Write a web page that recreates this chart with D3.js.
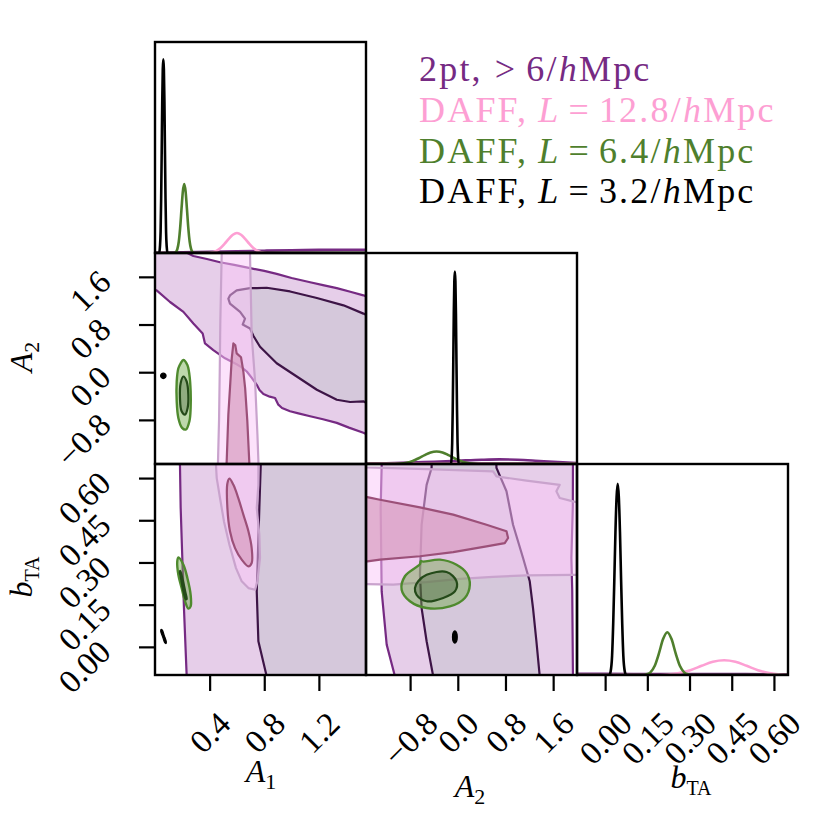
<!DOCTYPE html>
<html><head><meta charset="utf-8">
<script src="https://cdn.jsdelivr.net/npm/d3@7/dist/d3.min.js"></script>
<style>body{margin:0;background:#fff} svg{display:block}</style>
</head><body>
<svg id="c" width="830" height="830"></svg>
<script>
// ---------------- DATA ----------------
const paramNames = ["A1", "A2", "bTA"];
const paramDomains = [[0.0, 1.545], [-1.54, 2.0], [-0.10, 0.65]];
const tickValues = [[0.4, 0.8, 1.2], [-0.8, 0.0, 0.8, 1.6], [0.00, 0.15, 0.30, 0.45, 0.60]];
const tickLabels = [["0.4", "0.8", "1.2"], ["\u22120.8", "0.0", "0.8", "1.6"], ["0.00", "0.15", "0.30", "0.45", "0.60"]];
const margYMax = [1.089, 1.096, 1.104];

const seriesNames = ["2pt, > 6/hMpc", "DAFF, L = 12.8/hMpc", "DAFF, L = 6.4/hMpc", "DAFF, L = 3.2/hMpc"];

// 1D marginals [value, density]
const pt2_A1 = [[0,0.001],[0.2,0.003],[0.4,0.006],[0.6,0.009],[0.8,0.012],[1.0,0.014],[1.2,0.016],[1.4,0.017],[1.545,0.017]];
const pink_A1 = [[0,0],[0.38,0],[0.42,0.004],[0.45,0.011],[0.48,0.026],[0.51,0.048],[0.54,0.073],[0.57,0.094],[0.60,0.103],[0.63,0.094],[0.66,0.073],[0.69,0.048],[0.72,0.026],[0.75,0.011],[0.78,0.004],[0.82,0],[1.545,0]];
const green_A1 = [[0,0],[0.144,0],[0.154,0.006],[0.164,0.021],[0.174,0.058],[0.184,0.128],[0.194,0.226],[0.204,0.318],[0.214,0.356],[0.224,0.318],[0.234,0.226],[0.244,0.128],[0.254,0.058],[0.264,0.021],[0.274,0.006],[0.284,0],[1.545,0]];
const black_A1 = [[0,0],[0.031,0],[0.036,0.03],[0.041,0.11],[0.045,0.28],[0.049,0.52],[0.053,0.78],[0.057,0.95],[0.061,1],[0.065,0.95],[0.069,0.78],[0.073,0.52],[0.077,0.28],[0.081,0.11],[0.086,0.03],[0.091,0],[1.545,0]];

const pt2_A2 = [[-1.54,0.001],[-1.2,0.003],[-0.8,0.007],[-0.4,0.012],[0,0.017],[0.4,0.022],[0.7,0.024],[1.0,0.022],[1.3,0.017],[1.6,0.011],[2.0,0.005]];
const pink_A2 = [[-1.54,0.003],[0,0.004],[2.0,0.003]];
const green_A2 = [[-1.54,0],[-1.056,0],[-0.956,0.002],[-0.856,0.007],[-0.756,0.016],[-0.656,0.03],[-0.556,0.046],[-0.456,0.06],[-0.356,0.065],[-0.256,0.06],[-0.156,0.046],[-0.056,0.03],[0.044,0.016],[0.144,0.007],[0.244,0.002],[0.344,0],[2.0,0]];
const black_A2 = [[-1.54,0],[-0.114,0],[-0.104,0.03],[-0.094,0.11],[-0.085,0.28],[-0.076,0.52],[-0.067,0.78],[-0.058,0.95],[-0.049,1],[-0.04,0.95],[-0.031,0.78],[-0.022,0.52],[-0.013,0.28],[-0.004,0.11],[0.006,0.03],[0.016,0],[2.0,0]];

const pt2_bTA = [[-0.1,0.006],[0.1,0.0055],[0.3,0.005],[0.5,0.0045],[0.65,0.004]];
const pink_bTA = [[-0.1,0],[0.173,0],[0.223,0.003],[0.263,0.01],[0.303,0.025],[0.343,0.048],[0.383,0.069],[0.423,0.077],[0.463,0.069],[0.503,0.048],[0.543,0.025],[0.583,0.01],[0.623,0.003],[0.65,0.001]];
const green_bTA = [[-0.1,0],[0.131,0],[0.146,0.003],[0.161,0.014],[0.176,0.047],[0.191,0.112],[0.206,0.188],[0.221,0.224],[0.236,0.188],[0.251,0.112],[0.266,0.047],[0.281,0.014],[0.296,0.003],[0.311,0],[0.65,0]];
const black_bTA = [[-0.1,0],[0.0147,0],[0.0197,0.02],[0.0247,0.1],[0.0287,0.27],[0.0327,0.5],[0.0367,0.75],[0.0407,0.93],[0.0447,1],[0.0487,0.93],[0.0527,0.75],[0.0567,0.5],[0.0607,0.27],[0.0647,0.1],[0.0697,0.02],[0.0747,0],[0.65,0]];

// 2D contours [x, y]
// panel A1 (x) - A2 (y)
const pt2_A1A2_outer = [[-0.1,2.2],[0.15,2.1],[0.281,1.95],[0.38,1.9],[0.476,1.845],[0.58,1.8],[0.696,1.745],[0.8,1.7],[0.891,1.65],[1.0,1.58],[1.136,1.51],[1.23,1.46],[1.331,1.41],[1.43,1.35],[1.526,1.29],[1.7,1.15],[1.7,-1.2],[1.526,-1.017],[1.42,-0.93],[1.331,-0.85],[1.23,-0.79],[1.136,-0.738],[1.05,-0.69],[0.989,-0.655],[0.93,-0.6],[0.903,-0.545],[0.879,-0.433],[0.84,-0.41],[0.794,-0.367],[0.765,-0.3],[0.745,-0.212],[0.71,-0.1],[0.672,0.012],[0.635,0.08],[0.598,0.133],[0.513,0.233],[0.427,0.372],[0.366,0.483],[0.349,0.65],[0.281,0.817],[0.208,1.012],[0.11,1.178],[0.012,1.372],[-0.1,1.48]];
const pt2_A1A2_inner = [[0.549,1.288],[0.598,1.372],[0.696,1.412],[0.745,1.41],[0.818,1.417],[0.989,1.355],[1.185,1.245],[1.38,1.122],[1.526,0.983],[1.7,0.8],[1.7,-0.7],[1.526,-0.488],[1.429,-0.5],[1.331,-0.462],[1.185,-0.295],[1.038,-0.072],[0.891,0.15],[0.769,0.428],[0.72,0.612],[0.696,0.733],[0.642,0.8],[0.659,0.9],[0.623,1.012],[0.549,1.15],[0.537,1.233]];
const pink_A1A2_outer = [[0.459,-1.7],[0.469,-0.8],[0.474,0.0],[0.478,0.8],[0.488,1.95],[0.49,2.1],[0.695,2.1],[0.696,1.955],[0.708,0.62],[0.733,-0.155],[0.75,-1.045],[0.757,-1.488],[0.76,-1.7]];
const pink_A1A2_inner = [[0.52,-1.7],[0.525,-1.49],[0.537,-0.71],[0.549,-0.267],[0.556,0.0],[0.562,0.233],[0.574,0.483],[0.588,0.45],[0.598,0.317],[0.63,0.25],[0.647,0.012],[0.66,-0.267],[0.676,-0.82],[0.69,-1.49],[0.692,-1.7]];
const green_A1A2_outer = [[0.2075,0.206],[0.237,0.122],[0.252,-0.044],[0.261,-0.322],[0.261,-0.6],[0.252,-0.822],[0.227,-0.961],[0.198,-0.933],[0.171,-0.767],[0.159,-0.489],[0.159,-0.156],[0.171,0.067],[0.188,0.15]];
const green_A1A2_inner = [[0.2075,-0.072],[0.232,-0.156],[0.244,-0.378],[0.239,-0.6],[0.22,-0.711],[0.195,-0.656],[0.183,-0.433],[0.188,-0.183]];
const black_A1A2 = [[0.061,-0.016],[0.075,-0.03],[0.081,-0.061],[0.075,-0.092],[0.061,-0.106],[0.047,-0.092],[0.041,-0.061],[0.047,-0.03]];

// panel A1 (x) - bTA (y)
const pt2_A1b_outer = [[0.17,0.75],[0.183,0.642],[0.188,0.494],[0.2,0.316],[0.212,0.138],[0.232,-0.104],[0.235,-0.15],[1.7,-0.15],[1.7,0.75]];
const pt2_A1b_inner = [[0.775,0.75],[0.774,0.642],[0.764,0.494],[0.745,0.197],[0.757,0.02],[0.818,-0.105],[0.83,-0.15],[1.7,-0.15],[1.7,0.75]];
const pink_A1b_outer = [[0.445,0.75],[0.447,0.642],[0.452,0.60],[0.476,0.529],[0.505,0.446],[0.545,0.363],[0.593,0.28],[0.635,0.233],[0.684,0.209],[0.733,0.203],[0.75,0.233],[0.769,0.316],[0.764,0.399],[0.745,0.494],[0.757,0.576],[0.757,0.642],[0.757,0.75]];
const pink_A1b_inner = [[0.545,0.598],[0.53,0.581],[0.53,0.494],[0.549,0.411],[0.586,0.351],[0.635,0.31],[0.684,0.286],[0.708,0.298],[0.708,0.351],[0.684,0.411],[0.647,0.47],[0.61,0.529],[0.574,0.576]];
const green_A1b_outer = [[0.171,0.318],[0.208,0.292],[0.237,0.245],[0.261,0.185],[0.261,0.144],[0.244,0.136],[0.22,0.162],[0.195,0.209],[0.171,0.256],[0.163,0.304]];
const green_A1b_inner = [[0.185,0.27],[0.2,0.245],[0.222,0.195],[0.232,0.17],[0.225,0.17],[0.205,0.205],[0.19,0.245],[0.182,0.265]];
const black_A1b = [[0.044,0.062],[0.053,0.06],[0.068,0.04],[0.083,0.018],[0.081,0.012],[0.072,0.014],[0.057,0.034],[0.042,0.055]];

// panel A2 (x) - bTA (y)
const pt2_A2b_outer = [[-1.3,0.75],[-1.277,0.645],[-1.294,0.494],[-1.277,0.197],[-1.193,0.008],[-1.054,-0.105],[-1.03,-0.15],[1.95,-0.15],[1.932,-0.105],[1.92,0.2],[1.906,0.316],[1.93,0.5],[1.932,0.645],[1.94,0.75]];
const pt2_A2b_inner = [[-0.42,0.75],[-0.44,0.636],[-0.523,0.576],[-0.607,0.434],[-0.635,0.256],[-0.607,0.138],[-0.523,0.02],[-0.412,-0.105],[-0.4,-0.15],[1.39,-0.15],[1.375,-0.105],[1.319,0.02],[1.262,0.138],[1.207,0.233],[1.095,0.316],[0.927,0.434],[0.817,0.553],[0.649,0.636],[0.63,0.75]];
const pink_A2b_outer = [[-1.7,0.64],[-1.528,0.638],[-0.523,0.632],[0.592,0.624],[0.649,0.606],[1.152,0.591],[1.71,0.576],[1.654,0.553],[1.71,0.529],[1.932,0.517],[2.1,0.51],[2.1,0.256],[1.932,0.256],[1.152,0.254],[0.592,0.249],[0.035,0.242],[-0.523,0.23],[-1.083,0.221],[-1.518,0.223],[-1.7,0.223]];
const pink_A2b_inner = [[-1.7,0.535],[-1.518,0.532],[-1.305,0.523],[-0.635,0.496],[-0.077,0.47],[0.482,0.434],[0.817,0.411],[0.844,0.387],[0.788,0.369],[0.482,0.357],[-0.077,0.337],[-0.635,0.322],[-1.305,0.31],[-1.518,0.304],[-1.7,0.303]];
const green_A2b_outer = [[-0.635,0.294],[-0.62,0.305],[-0.58,0.303],[-0.3,0.31],[-0.021,0.292],[0.147,0.262],[0.202,0.221],[0.118,0.174],[-0.133,0.144],[-0.523,0.138],[-0.803,0.162],[-0.942,0.203],[-0.887,0.251]];
const green_A2b_inner = [[-0.664,0.233],[-0.523,0.256],[-0.188,0.266],[-0.021,0.233],[-0.049,0.197],[-0.245,0.174],[-0.523,0.162],[-0.691,0.185],[-0.719,0.209]];
const black_A2b = [[-0.049,0.057],[-0.021,0.051],[-0.009,0.035],[-0.021,0.019],[-0.049,0.013],[-0.077,0.019],[-0.089,0.035],[-0.077,0.051]];

// ---------------- STYLE ----------------
const C = {
  pt2: "#762a83", pt2OuterFill: "#e6cee9", pt2InnerFill: "#d5c8db", pt2Inner: "#3d1446",
  pink: "#fd9fd3", pinkOuterFill: "rgb(249,197,247)", pinkOuterLine: "#c9a3cd", pinkInnerFill: "#d99fc3", pinkInnerLine: "#9c5079",
  green: "#4f7f2d", greenOuterFill: "rgb(110,170,70)", greenOuterLine: "#4f8a2e", greenInnerFill: "rgb(60,90,50)", greenInnerLine: "#244a19",
  black: "#000"
};
const FONT = "'Liberation Serif', 'DejaVu Serif', serif";

const X0 = 155, Y0 = 42, S = 211;
const svg = d3.select("#c");

function xScale(i, col) { return d3.scaleLinear().domain(paramDomains[i]).range([X0 + col * S, X0 + (col + 1) * S]); }
function yScale(i, row) { return d3.scaleLinear().domain(paramDomains[i]).range([Y0 + (row + 1) * S, Y0 + row * S]); }

const defs = svg.append("defs");
function panelGroup(col, row) {
  const id = "clip" + col + row;
  defs.append("clipPath").attr("id", id).append("rect")
    .attr("x", X0 + col * S).attr("y", Y0 + row * S).attr("width", S).attr("height", S);
  return svg.append("g").attr("clip-path", "url(#" + id + ")");
}

function region(g, pts, x, y, o) {
  const line = d3.line().x(d => x(d[0])).y(d => y(d[1])).curve(o.smooth ? d3.curveCatmullRomClosed.alpha(0.5) : d3.curveLinearClosed);
  g.append("path").attr("d", line(pts))
    .attr("fill", o.fill || "none").attr("fill-opacity", o.fo == null ? 1 : o.fo)
    .attr("stroke", o.stroke || "none").attr("stroke-width", o.sw || 2.2)
    .attr("stroke-linejoin", "round");
}

// ---------------- 2D PANELS ----------------
const panels2D = [
  { col: 0, row: 1, px: 0, py: 1, data: [pt2_A1A2_outer, pt2_A1A2_inner, pink_A1A2_outer, pink_A1A2_inner, green_A1A2_outer, green_A1A2_inner, black_A1A2] },
  { col: 0, row: 2, px: 0, py: 2, data: [pt2_A1b_outer, pt2_A1b_inner, pink_A1b_outer, pink_A1b_inner, green_A1b_outer, green_A1b_inner, black_A1b] },
  { col: 1, row: 2, px: 1, py: 2, data: [pt2_A2b_outer, pt2_A2b_inner, pink_A2b_outer, pink_A2b_inner, green_A2b_outer, green_A2b_inner, black_A2b] }
];
panels2D.forEach(p => {
  const g = panelGroup(p.col, p.row);
  const x = xScale(p.px, p.col), y = yScale(p.py, p.row);
  const [po, pi, ko, ki, go, gi, bk] = p.data;
  region(g, po, x, y, { fill: C.pt2OuterFill });
  region(g, pi, x, y, { fill: C.pt2InnerFill });
  region(g, po, x, y, { stroke: C.pt2, sw: 2.2 });
  region(g, pi, x, y, { stroke: C.pt2Inner, sw: 2.2 });
  const pinkSmooth = p.col === 0 && p.row === 2;
  region(g, ko, x, y, { fill: C.pinkOuterFill, fo: 0.5 });
  region(g, ki, x, y, { fill: C.pinkInnerFill, fo: 0.75, smooth: pinkSmooth });
  region(g, ko, x, y, { stroke: C.pinkOuterLine, sw: 2.2 });
  region(g, ki, x, y, { stroke: C.pinkInnerLine, sw: 2.2, smooth: pinkSmooth });
  region(g, go, x, y, { fill: C.greenOuterFill, fo: 0.45, stroke: C.greenOuterLine, sw: 2.4, smooth: true });
  region(g, gi, x, y, { fill: C.greenInnerFill, fo: 0.35, stroke: C.greenInnerLine, sw: 2.2, smooth: true });
  region(g, bk, x, y, { fill: C.black, stroke: C.black, sw: 1.2, smooth: true });
});

// ---------------- 1D PANELS ----------------
const margs = [
  [pt2_A1, pink_A1, green_A1, black_A1],
  [pt2_A2, pink_A2, green_A2, black_A2],
  [pt2_bTA, pink_bTA, green_bTA, black_bTA]
];
const margColors = [C.pt2, C.pink, C.green, C.black];
margs.forEach((set, i) => {
  const g = panelGroup(i, i);
  const x = xScale(i, i);
  const y = d3.scaleLinear().domain([0, margYMax[i]]).range([Y0 + (i + 1) * S, Y0 + i * S]);
  const line = d3.line().x(d => x(d[0])).y(d => y(d[1])).curve(d3.curveMonotoneX);
  set.forEach((arr, k) => {
    g.append("path").attr("d", line(arr)).attr("fill", "none")
      .attr("stroke", margColors[k]).attr("stroke-width", 2.6).attr("stroke-linejoin", "round");
  });
});

// ---------------- FRAMES ----------------
for (let r = 0; r < 3; r++) for (let c = 0; c <= r; c++) {
  svg.append("rect").attr("x", X0 + c * S).attr("y", Y0 + r * S).attr("width", S).attr("height", S)
    .attr("fill", "none").attr("stroke", "#000").attr("stroke-width", 2.4);
}

// ---------------- AXES ----------------
const TL = 16, TICKFS = 33;
const bottomY = Y0 + 3 * S;
for (let c = 0; c < 3; c++) {
  const x = xScale(c, c);
  const axis = d3.axisBottom(x).tickValues(tickValues[c]).tickSize(TL).tickFormat((d, k) => tickLabels[c][k]);
  const ga = svg.append("g").attr("transform", `translate(0,${bottomY})`).call(axis);
  ga.select(".domain").remove();
  ga.selectAll(".tick line").attr("stroke", "#000").attr("stroke-width", 2.2);
  ga.selectAll(".tick text").each(function () {
    const t = d3.select(this);
    t.attr("font-family", FONT).attr("font-size", TICKFS).attr("fill", "#000")
      .attr("y", 0).attr("dy", null).attr("text-anchor", "middle").attr("dominant-baseline", "central");
    const bb = this.getBBox();
    const R = (bb.width + TICKFS * 0.68) / Math.SQRT2;
    const cy = 35 + R / 2;
    t.attr("transform", `translate(0,${cy}) rotate(-45)`);
  });
}
for (let r = 1; r < 3; r++) {
  const y = yScale(r, r);
  const axis = d3.axisLeft(y).tickValues(tickValues[r]).tickSize(TL).tickFormat((d, k) => tickLabels[r][k]);
  const ga = svg.append("g").attr("transform", `translate(${X0},0)`).call(axis);
  ga.select(".domain").remove();
  ga.selectAll(".tick line").attr("stroke", "#000").attr("stroke-width", 2.2);
  ga.selectAll(".tick text").each(function () {
    const t = d3.select(this);
    t.attr("font-family", FONT).attr("font-size", TICKFS).attr("fill", "#000")
      .attr("x", 0).attr("dy", null).attr("text-anchor", "end").attr("dominant-baseline", "central");
    t.attr("transform", `translate(-50,-1) rotate(-45)`);
  });
}

// axis labels
function paramLabel(g, i) {
  const t = g.append("text").attr("font-family", FONT).attr("font-size", 32).attr("text-anchor", "middle");
  if (i < 2) {
    t.append("tspan").attr("font-style", "italic").text("A");
    t.append("tspan").attr("font-size", 22).attr("dy", 7).text(i === 0 ? "1" : "2");
  } else {
    t.append("tspan").attr("font-style", "italic").text("b");
    t.append("tspan").attr("font-size", 20).attr("dy", 7).text("TA");
  }
  return t;
}
const xLabelPos = [[261, 782], [470, 797], [691, 788]];
for (let c = 0; c < 3; c++) {
  const g = svg.append("g").attr("transform", `translate(${xLabelPos[c][0]},${xLabelPos[c][1]})`);
  paramLabel(g, c);
}
const yLabelPos = [null, [32, 357], [32, 577]];
for (let r = 1; r < 3; r++) {
  const g = svg.append("g").attr("transform", `translate(${yLabelPos[r][0]},${yLabelPos[r][1]}) rotate(-90)`);
  paramLabel(g, r);
}

// ---------------- LEGEND ----------------
const legColors = [C.pt2, C.pink, C.green, C.black];
const legParts = [
  [["2pt,", 0, 0], [">", 0, 12], ["6/", 0, 9], ["h", 1, 0], ["Mpc", 0, 0]],
  [["DAFF,", 0, 0], ["L", 1, 10], ["=", 0, 8], ["12.8/", 0, 8], ["h", 1, 0], ["Mpc", 0, 0]],
  [["DAFF,", 0, 0], ["L", 1, 10], ["=", 0, 8], ["6.4/", 0, 8], ["h", 1, 0], ["Mpc", 0, 0]],
  [["DAFF,", 0, 0], ["L", 1, 10], ["=", 0, 8], ["3.2/", 0, 8], ["h", 1, 0], ["Mpc", 0, 0]]
];
seriesNames.forEach((name, k) => {
  const t = svg.append("text").attr("x", 419).attr("y", 81 + k * 40.8)
    .attr("font-family", FONT).attr("font-size", 36).attr("fill", legColors[k])
    .attr("letter-spacing", 2.2);
  legParts[k].forEach(([s, it, dx]) => {
    const ts = t.append("tspan").attr("dx", dx).text(s);
    if (it) ts.attr("font-style", "italic");
  });
});
</script>
</body></html>
